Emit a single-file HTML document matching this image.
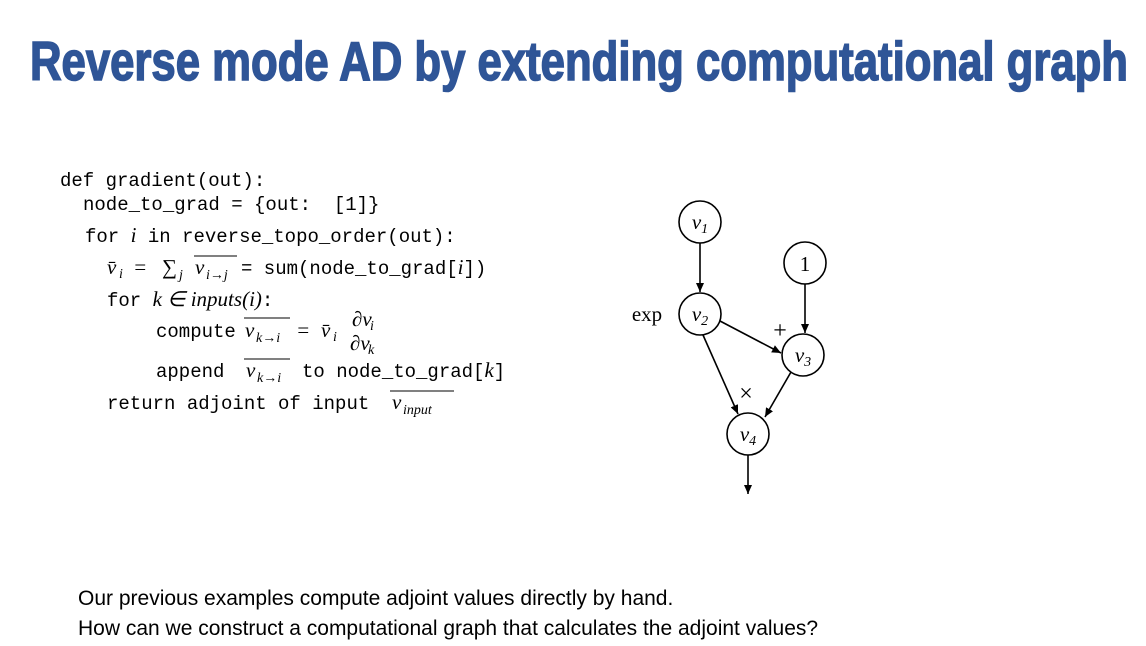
<!DOCTYPE html>
<html><head><meta charset="utf-8"><style>
html,body{margin:0;padding:0;background:#fff;width:1146px;height:646px;overflow:hidden}
svg{display:block}
text{white-space:pre}
.c{font-family:"Liberation Mono",monospace;font-size:19px;fill:#000}
.m{font-family:"Liberation Serif",serif;font-style:italic;font-size:21px;fill:#000}
.sb{font-family:"Liberation Serif",serif;font-style:italic;font-size:14px;fill:#000}
.s{font-family:"Liberation Sans",sans-serif;font-size:21px;fill:#000}
</style></head><body>
<svg width="1146" height="646" viewBox="0 0 1146 646" xmlns="http://www.w3.org/2000/svg">
<defs><marker id="a" markerWidth="10" markerHeight="10" refX="9" refY="5" orient="auto" markerUnits="userSpaceOnUse"><path d="M0,1 L9,5 L0,9 z" fill="#000"/></marker></defs>
<text x="30" y="80" font-family="Liberation Sans,sans-serif" font-weight="bold" font-size="55" fill="#2F5597" stroke="#2F5597" stroke-width="1.6" textLength="1098" lengthAdjust="spacingAndGlyphs">Reverse mode AD by extending computational graph</text>

<text class="c" x="60" y="186">def gradient(out):</text>
<text class="c" x="83" y="210">node_to_grad = {out:  [1]}</text>
<text class="c" x="85" y="242">for <tspan class="m">i</tspan> in reverse_topo_order(out):</text>

<text class="m" x="107" y="274">v̄</text><text class="sb" x="119" y="278">i</text>
<text class="m" x="133" y="274" font-style="normal">=</text>
<text class="m" x="162" y="274" font-style="normal">∑</text><text class="sb" x="179" y="279">j</text>
<text class="m" x="195" y="274">v</text><text class="sb" x="206" y="279">i→j</text>
<line x1="194" y1="256" x2="237" y2="256" stroke="#000" stroke-width="1"/>
<text class="c" x="241" y="274">= sum(node_to_grad[<tspan class="m">i</tspan>])</text>

<text class="c" x="107" y="306">for <tspan class="m">k ∈ inputs</tspan><tspan class="m" font-style="normal">(</tspan><tspan class="m">i</tspan><tspan class="m" font-style="normal">)</tspan>:</text>

<text class="c" x="156" y="337">compute</text>
<text class="m" x="245" y="337">v</text><text class="sb" x="256" y="342">k→i</text>
<line x1="244" y1="318" x2="290" y2="318" stroke="#000" stroke-width="1"/>
<text class="m" x="296" y="337" font-style="normal">=</text>
<text class="m" x="321" y="337">v̄</text><text class="sb" x="333" y="341">i</text>
<text class="m" x="352" y="326" font-size="16">∂v</text><text class="sb" x="370" y="330" font-size="11">i</text>
<text class="m" x="350" y="350" font-size="16">∂v</text><text class="sb" x="368" y="354" font-size="11">k</text>

<text class="c" x="156" y="377">append</text>
<text class="m" x="246" y="377">v</text><text class="sb" x="257" y="382">k→i</text>
<line x1="244" y1="359" x2="290" y2="359" stroke="#000" stroke-width="1"/>
<text class="c" x="302" y="377">to node_to_grad[<tspan class="m">k</tspan>]</text>

<text class="c" x="107" y="409">return adjoint of input</text>
<text class="m" x="392" y="409">v</text><text class="sb" x="403" y="414">input</text>
<line x1="390" y1="391" x2="454" y2="391" stroke="#000" stroke-width="1"/>

<g fill="none" stroke="#000" stroke-width="1.6">
<circle cx="700" cy="222" r="21"/>
<circle cx="700" cy="314" r="21"/>
<circle cx="805" cy="263" r="21"/>
<circle cx="803" cy="355" r="21"/>
<circle cx="748" cy="434" r="21"/>
<line x1="700" y1="243" x2="700" y2="292" marker-end="url(#a)"/>
<line x1="805" y1="284" x2="805" y2="333" marker-end="url(#a)"/>
<line x1="720" y1="321" x2="781" y2="353" marker-end="url(#a)"/>
<line x1="703" y1="335" x2="738" y2="414" marker-end="url(#a)"/>
<line x1="791" y1="372" x2="765" y2="417" marker-end="url(#a)"/>
<line x1="748" y1="455" x2="748" y2="494" marker-end="url(#a)"/>
</g>
<g font-family="Liberation Serif,serif" font-size="21" fill="#000" text-anchor="middle">
<text x="700" y="229" font-style="italic">v<tspan font-size="14" dy="4">1</tspan></text>
<text x="700" y="321" font-style="italic">v<tspan font-size="14" dy="4">2</tspan></text>
<text x="805" y="271">1</text>
<text x="803" y="362" font-style="italic">v<tspan font-size="14" dy="4">3</tspan></text>
<text x="748" y="441" font-style="italic">v<tspan font-size="14" dy="4">4</tspan></text>
<text x="647" y="321">exp</text>
<text x="780" y="338" font-size="24">+</text>
<text x="746" y="401" font-size="24">×</text>
</g>

<text class="s" x="78" y="605">Our previous examples compute adjoint values directly by hand.</text>
<text class="s" x="78" y="635">How can we construct a computational graph that calculates the adjoint values?</text>
</svg>
</body></html>
